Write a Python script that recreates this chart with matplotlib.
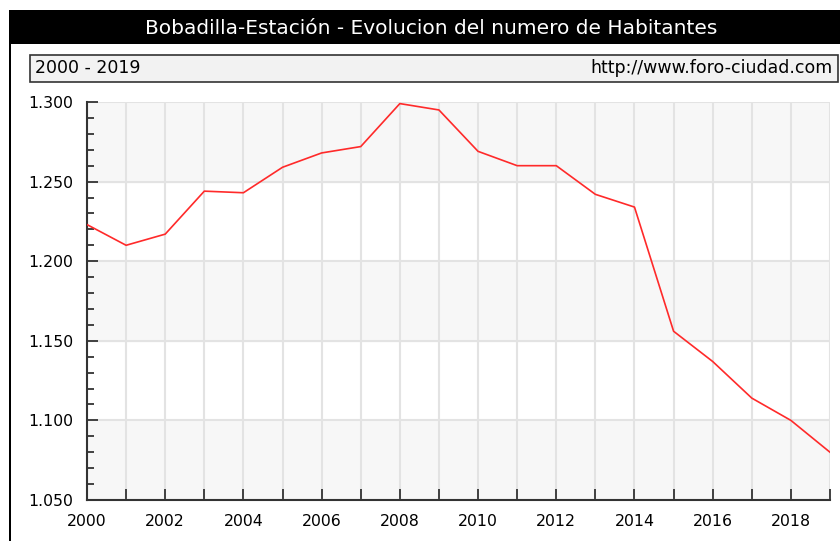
import matplotlib
matplotlib.use("Agg")
import matplotlib.pyplot as plt
from matplotlib.patches import Rectangle
from matplotlib.ticker import FuncFormatter, MultipleLocator

# Data
years = list(range(2000, 2020))
habitantes = [1223, 1210, 1217, 1244, 1243, 1259, 1268, 1272, 1299, 1295,
              1269, 1260, 1260, 1242, 1234, 1156, 1137, 1114, 1100, 1080]
title = "Bobadilla-Estación - Evolucion del numero de Habitantes"
period = "2000 - 2019"
url = "http://www.foro-ciudad.com"

W, H = 840, 541
fig = plt.figure(figsize=(W / 100, H / 100), dpi=100)
fig.patch.set_facecolor("white")

def fx(px):
    return px / W

def fy(py):
    return 1 - py / H

# black title bar and left border
fig.patches.append(Rectangle((fx(10), fy(44)), fx(830), 34 / H, transform=fig.transFigure,
                             facecolor="black", edgecolor="none"))
fig.patches.append(Rectangle((fx(9), 0), 2 / W, fy(10), transform=fig.transFigure,
                             facecolor="black", edgecolor="none"))
fig.text(fx(431), fy(29), title, color="white", fontsize=14.5, ha="center", va="center")

# subtitle box
fig.patches.append(Rectangle((fx(30), fy(82)), fx(808), 27 / H, transform=fig.transFigure,
                             facecolor="#f2f2f2", edgecolor="#333333", linewidth=1.2))
fig.text(fx(35), fy(68.5), period, fontsize=12.5, ha="left", va="center", color="black")
fig.text(fx(833), fy(68.5), url, fontsize=12.5, ha="right", va="center", color="black")

ax = fig.add_axes([fx(87), fy(500), fx(830 - 87), (500 - 102) / H])
ax.set_facecolor("white")
for lo in (1050, 1150, 1250):
    ax.axhspan(lo, lo + 50, color="#f7f7f7", zorder=0)

ax.plot(years, habitantes, color="#ff2a2a", linewidth=1.2, zorder=3)

ax.set_xlim(2000, 2019)
ax.set_ylim(1050, 1300)
ax.xaxis.set_major_locator(MultipleLocator(1))
ax.xaxis.set_major_formatter(FuncFormatter(lambda v, p: f"{int(v)}" if int(v) % 2 == 0 else ""))
ax.yaxis.set_major_locator(MultipleLocator(50))
ax.yaxis.set_minor_locator(MultipleLocator(10))
ax.yaxis.set_major_formatter(FuncFormatter(lambda v, p: f"{v:,.0f}".replace(",", ".")))

ax.grid(True, which="major", color="#e3e3e3", linewidth=1.5, zorder=1)
ax.set_axisbelow(True)

for s in ("top", "right"):
    ax.spines[s].set_visible(False)
for s in ("left", "bottom"):
    ax.spines[s].set_color("#333333")
    ax.spines[s].set_linewidth(1.5)

ax.tick_params(axis="both", which="major", direction="in", length=8, width=1.3,
               color="#333333", labelsize=11.3)
ax.tick_params(axis="y", which="minor", direction="in", length=5, width=1.3, color="#333333")
ax.tick_params(axis="y", pad=10)
ax.tick_params(axis="x", pad=10)

fig.savefig("out.png", dpi=100)
